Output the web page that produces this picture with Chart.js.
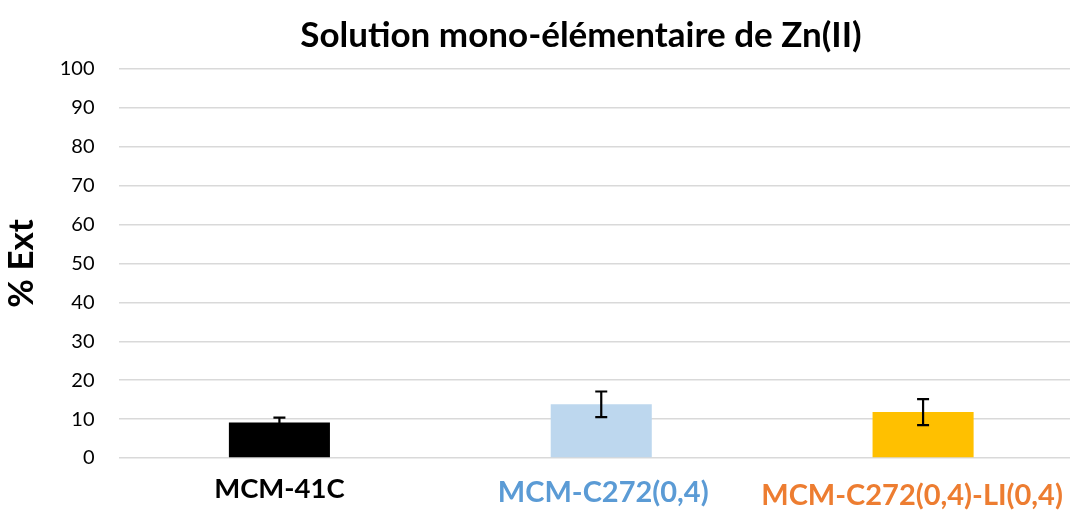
<!DOCTYPE html>
<html>
<head>
<meta charset="utf-8">
<script src="https://cdn.jsdelivr.net/npm/chart.js@4"></script>
<style>
  html, body { margin: 0; padding: 0; background: #fff; overflow: hidden; }
  #wrap { width: 1084px; height: 512px; }
</style>
</head>
<body>
<div id="wrap"><canvas id="c" width="1084" height="512"></canvas></div>
<script>
// Zn(II) extraction, single-element solution
const chartTitle = 'Solution mono-élémentaire de Zn(II)';
const categories = ['MCM-41C', 'MCM-C272(0,4)', 'MCM-C272(0,4)-LI(0,4)'];
const extraction = [9.1, 13.8, 11.8];
const extractionError = [1.3, 3.3, 3.35];
const barColors = ['#000000', '#BDD7EE', '#FFC000'];
const labelColors = ['#000000', '#5B9BD5', '#ED7D31'];
const yTicks = [0, 10, 20, 30, 40, 50, 60, 70, 80, 90, 100];

const FONT = 'Lato, "Open Sans", sans-serif';
const labelSizes = [27.5, 29, 29];
// per-label nudges [dx, dy] so the long last label stays inside the frame
const labelNudge = [[0, -2], [2, 0], [-11, 3]];

// Symmetric error bars drawn on top of each bar through the y scale
const errorBars = {
  id: 'errorBars',
  afterDatasetsDraw(chart) {
    const ctx = chart.ctx;
    const y = chart.scales.y;
    const meta = chart.getDatasetMeta(0);
    ctx.save();
    ctx.strokeStyle = '#000';
    ctx.lineWidth = 2.2;
    meta.data.forEach((bar, i) => {
      const v = extraction[i], e = extractionError[i];
      const yTop = y.getPixelForValue(v + e);
      const yBot = y.getPixelForValue(v - e);
      const x = bar.x, cap = 6;
      ctx.beginPath();
      ctx.moveTo(x, yTop); ctx.lineTo(x, yBot);
      ctx.moveTo(x - cap, yTop); ctx.lineTo(x + cap, yTop);
      ctx.moveTo(x - cap, yBot); ctx.lineTo(x + cap, yBot);
      ctx.stroke();
    });
    ctx.restore();
  }
};

// Shift individual category labels after the x scale has placed them
const labelShift = {
  id: 'labelShift',
  beforeDraw(chart) {
    const items = chart.scales.x.getLabelItems(chart.chartArea);
    items.forEach((it, i) => {
      if (it._nudged || !labelNudge[i]) return;
      it.options.translation[0] += labelNudge[i][0];
      it.options.translation[1] += labelNudge[i][1];
      it._nudged = true;
    });
  }
};

// Chart title, centred over the whole figure
const figureTitle = {
  id: 'figureTitle',
  afterDraw(chart) {
    const ctx = chart.ctx;
    ctx.save();
    ctx.fillStyle = '#000';
    ctx.font = 'bold 35px ' + FONT;
    ctx.textAlign = 'center';
    ctx.textBaseline = 'middle';
    ctx.fillText(chartTitle, 581, 36);
    ctx.restore();
  }
};

new Chart(document.getElementById('c'), {
  type: 'bar',
  data: {
    labels: categories,
    datasets: [{
      data: extraction,
      backgroundColor: barColors,
      borderWidth: 0,
      categoryPercentage: 1,
      barPercentage: 0.314
    }]
  },
  options: {
    responsive: false,
    animation: false,
    layout: { padding: { left: 0, right: 0, top: 69, bottom: 0 } },
    plugins: {
      legend: { display: false },
      tooltip: { enabled: false },
      title: { display: false }
    },
    scales: {
      x: {
        grid: { display: false, drawTicks: false },
        border: { display: false },
        ticks: {
          color: (c) => labelColors[c.index],
          font: (c) => ({ family: FONT, size: labelSizes[c.index] || 28, weight: 'bold' }),
          padding: 17,
          maxRotation: 0,
          autoSkip: false
        },
        afterFit(s) {
          s.height = 54;
          s.paddingLeft = 0;
          s.paddingRight = 0;
        }
      },
      y: {
        min: 0,
        max: 100,
        afterBuildTicks(s) { s.ticks = yTicks.map(v => ({ value: v })); },
        grid: { color: '#d9d9d9', lineWidth: 1.5, drawTicks: false },
        border: { display: false },
        ticks: {
          color: '#000',
          font: { family: FONT, size: 20 },
          padding: 24
        },
        title: {
          display: true,
          text: '% Ext',
          color: '#000',
          font: { family: FONT, size: 35, weight: 'bold' },
          padding: { top: 1, bottom: 0 }
        },
        afterFit(s) { s.width = 118.5; }
      }
    }
  },
  plugins: [errorBars, labelShift, figureTitle]
});
</script>
</body>
</html>
